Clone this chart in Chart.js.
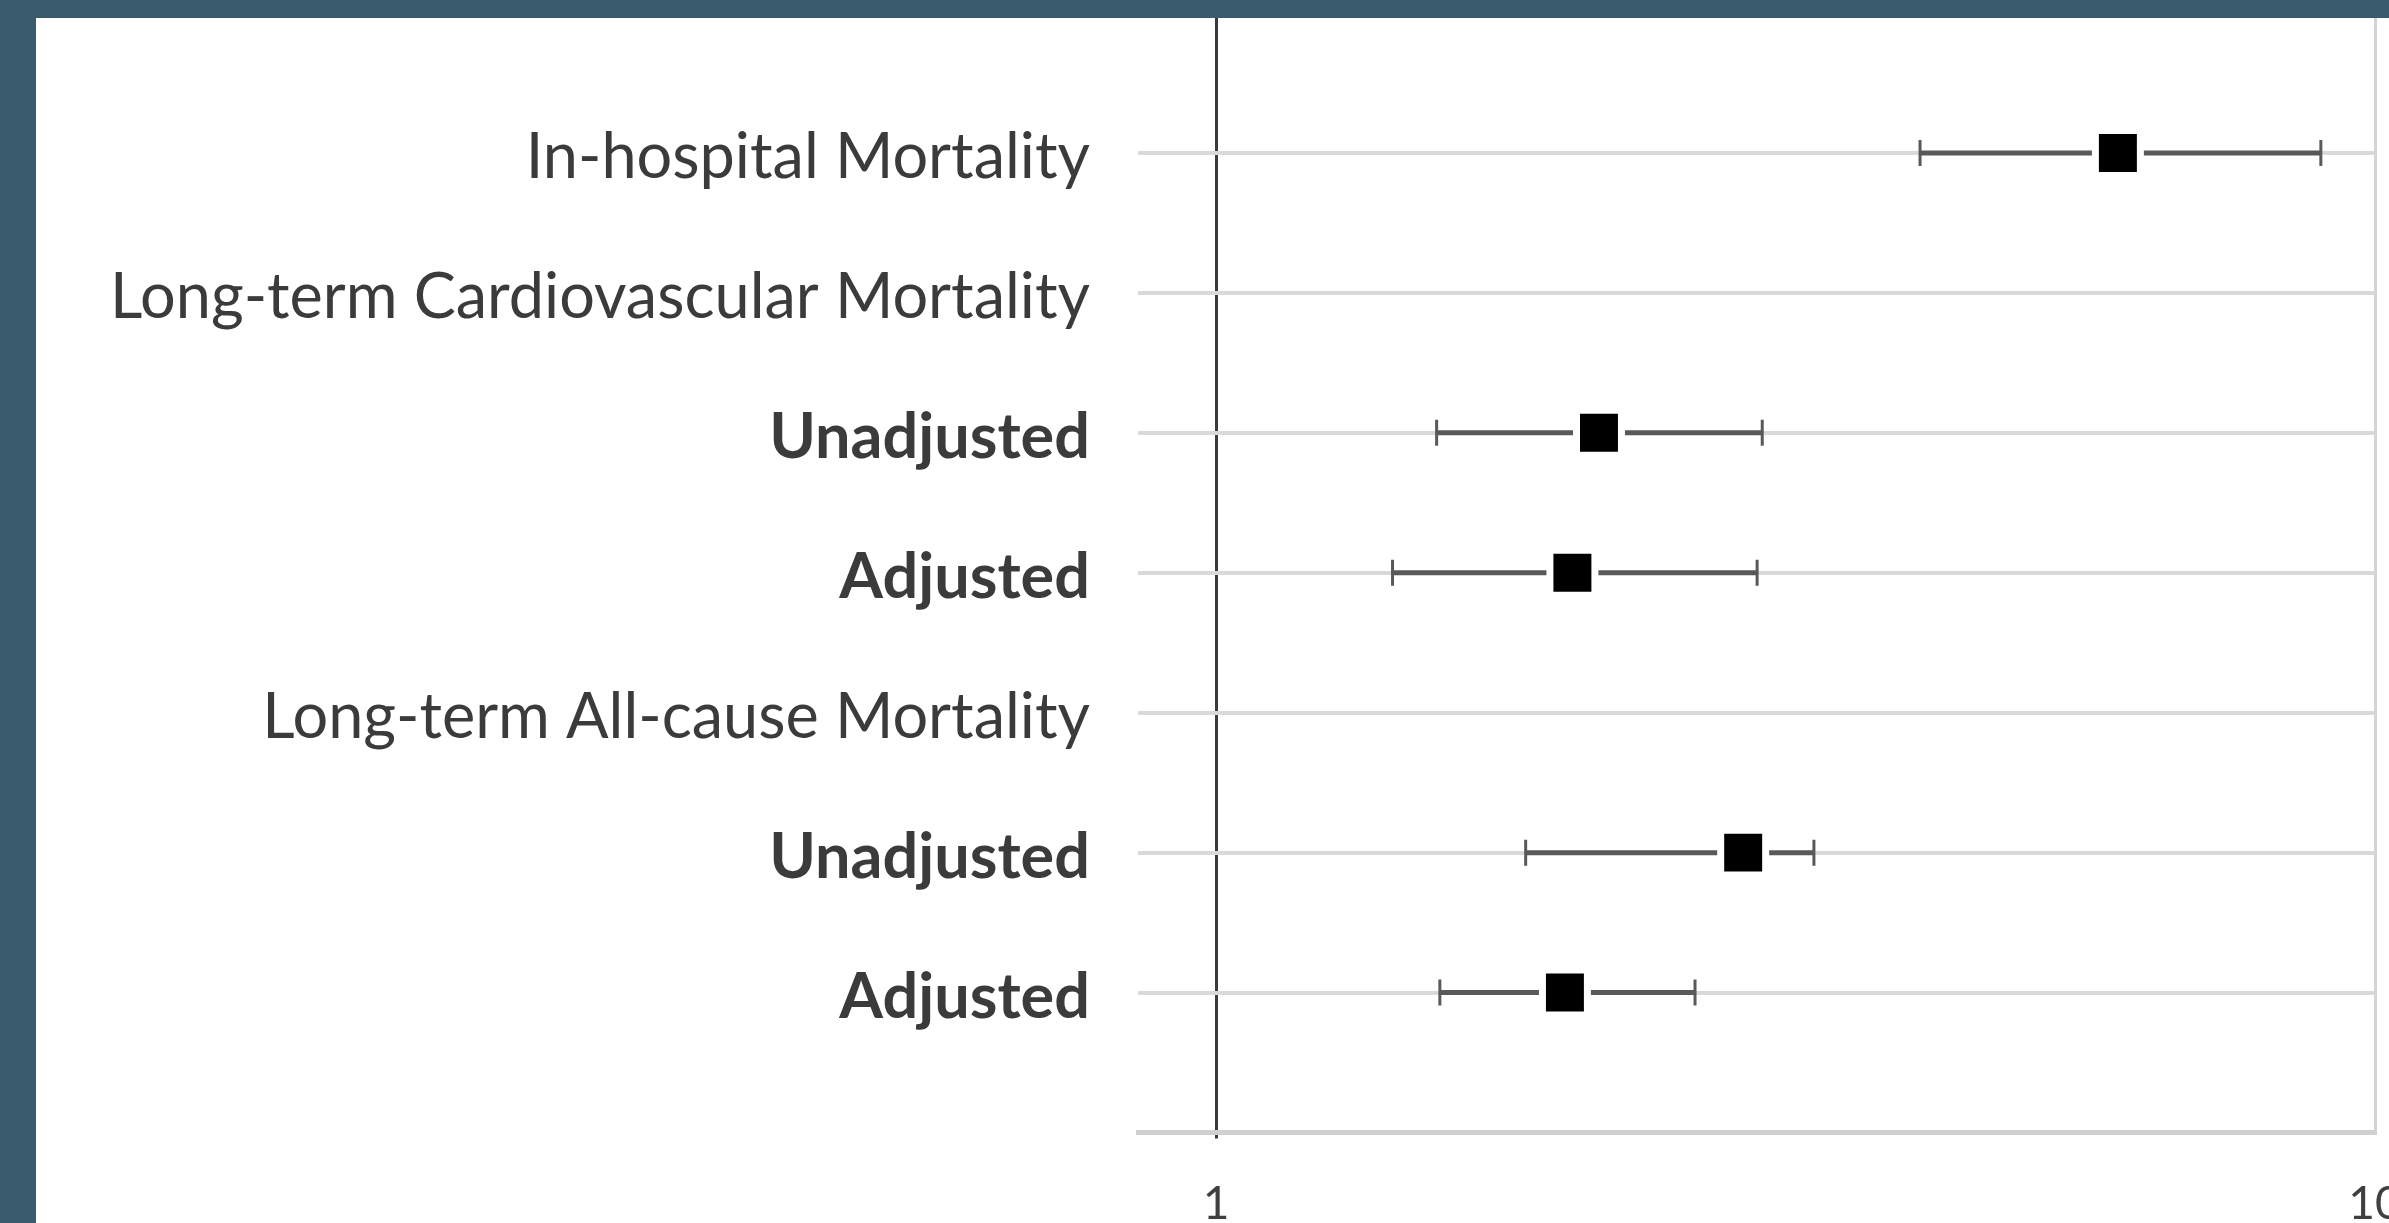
<!DOCTYPE html>
<html>
<head>
<meta charset="utf-8">
<script src="https://cdn.jsdelivr.net/npm/chart.js@4.4.0/dist/chart.umd.min.js"></script>
<style>
  html, body { margin: 0; padding: 0; width: 2389px; height: 1223px; overflow: hidden; background: #fff; }
  #frameTop { position: absolute; left: 0; top: 0; width: 2389px; height: 18px; background: #3a5b6d; z-index: 2; }
  #frameLeft { position: absolute; left: 0; top: 0; width: 36px; height: 1223px; background: #3a5b6d; z-index: 2; }
  #forestChart { position: absolute; left: 0; top: 0; z-index: 1; }
</style>
</head>
<body>
<div id="frameTop"></div>
<div id="frameLeft"></div>
<canvas id="forestChart" width="2420" height="1223"></canvas>
<script>
// rows, top to bottom
const rowLabels = ['In-hospital Mortality', 'Long-term Cardiovascular Mortality', 'Unadjusted', 'Adjusted',
  'Long-term All-cause Mortality', 'Unadjusted', 'Adjusted'];
const boldRows = [false, false, true, true, false, true, true];
const rowPos = [7, 6, 5, 4, 3, 2, 1];

// odds ratios with 95% CI
const oddsRatio = [6.0, null, 2.14, 2.03, null, 2.85, 2.0];
const ciLow = [4.05, null, 1.55, 1.42, null, 1.85, 1.56];
const ciHigh = [8.98, null, 2.96, 2.93, null, 3.28, 2.59];

const xTicks = [1, 10];

const fontFamily = 'Lato, "Liberation Sans", sans-serif';

let points = [];
let whiskers = [];
rowPos.forEach(function (y, i) {
  if (oddsRatio[i] == null) return;
  points.push({x: oddsRatio[i], y: y});
  whiskers.push({
    type: 'scatter',
    data: [{x: ciLow[i], y: y}, {x: ciHigh[i], y: y}],
    showLine: true,
    borderColor: '#595959',
    borderWidth: 5,
    pointStyle: 'line',
    rotation: 90,
    pointRadius: 13,
    pointBorderWidth: 3,
    pointBorderColor: '#595959',
    order: 1
  });
});

// keep the plot box where it is, labels may hang over the edges
function noPadding(scale) {
  scale.paddingTop = 0;
  scale.paddingBottom = 0;
  scale.paddingLeft = 0;
  scale.paddingRight = 0;
}

new Chart(document.getElementById('forestChart'), {
  type: 'scatter',
  data: {
    datasets: [{
      data: points,
      pointStyle: 'rect',
      pointRadius: 31.8,
      backgroundColor: '#000',
      borderColor: '#fff',
      borderWidth: 7,
      order: 0
    }].concat(whiskers)
  },
  options: {
    responsive: false,
    animation: false,
    events: [],
    layout: { autoPadding: false, padding: { top: 13, right: 45, left: 0, bottom: 0 } },
    plugins: { legend: { display: false }, tooltip: { enabled: false } },
    scales: {
      x: {
        type: 'logarithmic',
        min: 0.8564,
        max: 10,
        afterBuildTicks: function (scale) {
          scale.ticks = xTicks.map(function (v) { return {value: v}; });
        },
        afterFit: function (scale) { scale.height = 90.5; noPadding(scale); },
        ticks: {
          autoSkip: false,
          maxRotation: 0,
          padding: 38,
          color: '#404040',
          font: { family: fontFamily, size: 46 },
          callback: function (v) { return String(v); }
        },
        grid: {
          drawTicks: true,
          tickLength: 6,
          color: function (ctx) { return ctx.tick && ctx.tick.value === 1 ? '#3a3a3a' : '#d4d4d4'; },
          tickColor: function (ctx) { return ctx.tick && ctx.tick.value === 1 ? '#3a3a3a' : 'rgba(0,0,0,0)'; },
          lineWidth: 3
        },
        border: { display: true, color: '#d0d0d0', width: 5 }
      },
      y: {
        min: 0,
        max: 8,
        afterFit: function (scale) { scale.width = 1138; noPadding(scale); },
        ticks: {
          stepSize: 1,
          autoSkip: false,
          padding: 48,
          labelOffset: 5,
          color: '#3b3b3b',
          font: function (ctx) {
            let idx = rowPos.indexOf(ctx.tick ? ctx.tick.value : -1);
            return { family: fontFamily, size: 63, weight: idx >= 0 && boldRows[idx] ? 'bold' : 'normal' };
          },
          callback: function (v) {
            let idx = rowPos.indexOf(v);
            return idx >= 0 ? rowLabels[idx] : '';
          }
        },
        grid: {
          drawTicks: false,
          color: '#d9d9d9',
          lineWidth: 4
        },
        border: { display: false }
      }
    }
  }
});
</script>
</body>
</html>
